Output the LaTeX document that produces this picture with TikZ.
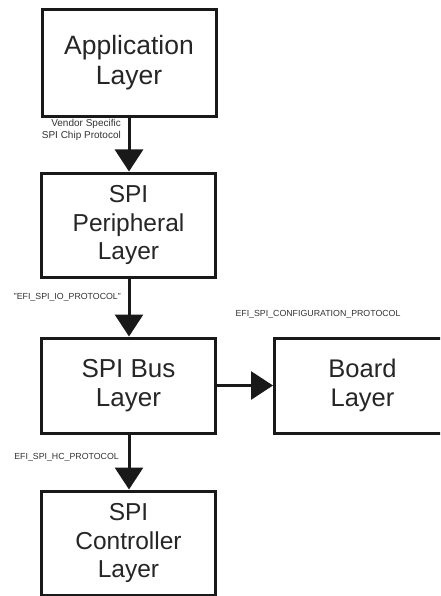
\documentclass[tikz,border=0pt]{standalone}
\usepackage{fontspec}
\setmainfont{Liberation Sans}
\usetikzlibrary{arrows.meta}
\begin{document}
\begin{tikzpicture}[x=1pt,y=-1pt,
  layer/.style={draw=black!90,line width=3pt,minimum width=174pt,inner sep=0pt,align=center,
    font=\fontsize{24.5}{28.5}\selectfont,text=black!85},
  conn/.style={line width=3pt,draw=black!90,-{Triangle[length=22pt,width=28pt]}},
  lbl/.style={font=\fontsize{8.8}{11}\selectfont,text=black!80,inner sep=0pt}]
\clip (0,0) rectangle (440,596);
\fill[white] (0,0) rectangle (440,596);
\node[layer,minimum height=107pt,font=\fontsize{26.5}{30}\selectfont] (app) at (129,63) {Application\\Layer};
\node[layer,minimum height=104pt] (per) at (128.5,225) {SPI\\Peripheral\\Layer};
\node[layer,minimum height=95pt,font=\fontsize{26}{29}\selectfont] (bus) at (128.5,385.5) {SPI Bus\\Layer};
\node[layer,minimum height=104pt] (ctl) at (128.5,543) {SPI\\Controller\\Layer};
\node[layer,minimum height=95pt,minimum width=176pt,anchor=west,font=\fontsize{25.5}{29}\selectfont] (brd) at (273,385.5) {Board\\Layer};
\draw[conn] (app.south -| 129,0) -- (per.north -| 129,0);
\draw[conn] (per.south -| 129,0) -- (bus.north -| 129,0);
\draw[conn] (bus.south -| 129,0) -- (ctl.north -| 129,0);
\draw[conn] (bus.east) -- (brd.west |- bus.east);
\node[lbl,anchor=east,align=right,font=\fontsize{10}{11.5}\selectfont] (l1) at (121,130) {Vendor Specific\\SPI Chip Protocol};
\node[lbl,anchor=east] (l2) at (121,297) {"EFI\_SPI\_IO\_PROTOCOL"};
\node[lbl] (l3) at (318,314) {EFI\_SPI\_CONFIGURATION\_PROTOCOL};
\node[lbl,anchor=east] (l4) at (119,457) {EFI\_SPI\_HC\_PROTOCOL};
\end{tikzpicture}
\end{document}
